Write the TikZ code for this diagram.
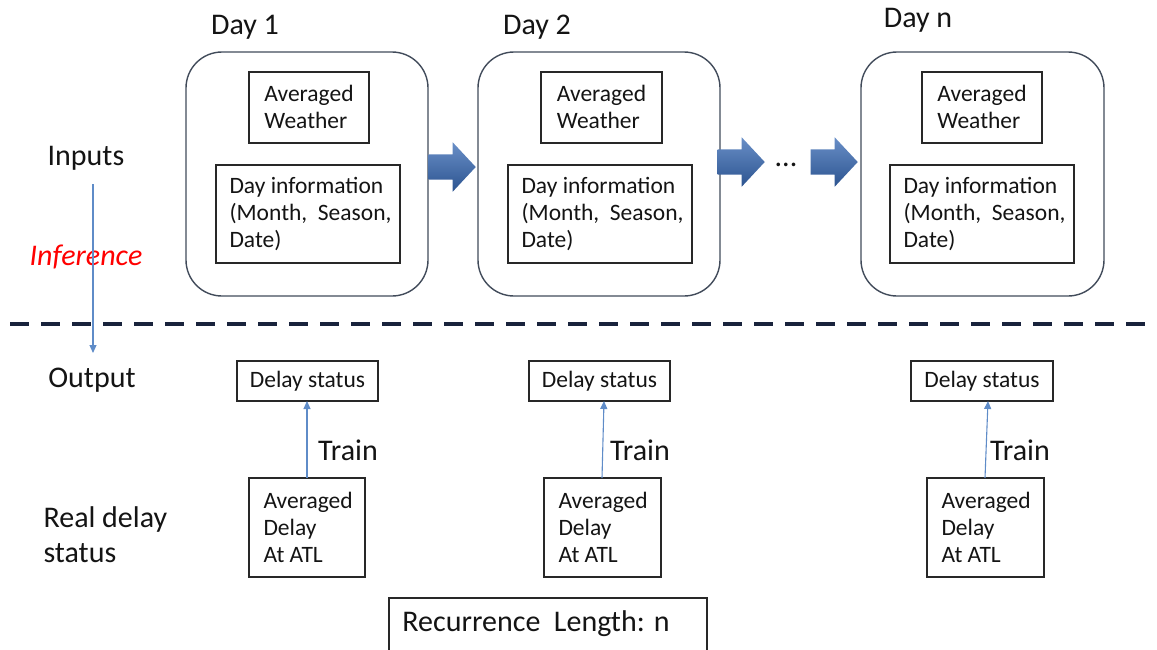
\documentclass[tikz,border=0pt]{standalone}
\usepackage{fontspec}
\setmainfont{Carlito}
\usetikzlibrary{arrows.meta,shapes.arrows}
\definecolor{framegray}{RGB}{65,75,90}
\definecolor{boxline}{RGB}{40,40,40}
\definecolor{flowblue}{RGB}{55,105,180}
\definecolor{linkblue}{RGB}{95,140,200}
\definecolor{navy}{RGB}{25,35,60}
\definecolor{txt}{RGB}{20,20,20}
\tikzset{
  daybox/.style={draw=framegray, line width=1.4pt, rounded corners=36pt},
  boxtext/.style={font=\fontsize{23.5}{27}\selectfont, text=txt, align=left},
  lbl/.style={font=\fontsize{30}{35}\selectfont, text=txt},
  flow/.style={single arrow, draw=none, inner sep=12.5pt, minimum height=47pt,
    single arrow head extend=12pt, single arrow tip angle=94, anchor=tip,
    top color=flowblue!75!white, bottom color=flowblue!80!black},
  thin arrow/.style={draw=linkblue, line width=1.1pt, -{Triangle[length=8pt,width=7pt]}},
}
\begin{document}
\begin{tikzpicture}[x=1pt,y=-1pt]
\useasboundingbox (0,0) rectangle (1157,649);

% day containers
\foreach \xl/\xr in {186/428, 478/720, 861/1104}{
  \draw[daybox] (\xl,52) rectangle (\xr,296);
}
\node[lbl] (t1) at (245,27) {Day 1};
\node[lbl] (t2) at (537,27) {Day 2};
\node[lbl] (tn) at (918,20) {Day n};

% weather and calendar boxes
\foreach \n/\a/\b/\c/\d in {1/249/369/216/400, 2/541/662/508/692, n/922/1042/890/1074}{
  \draw[boxline, line width=1.1pt] (\a,72) rectangle (\b,143);
  \node[boxtext] (w\n) at ({(\a+\b)/2},107) {Averaged\\Weather};
  \draw[boxline, line width=1.1pt] (\c,165) rectangle (\d,263);
  \node[boxtext, anchor=west] (i\n) at (\c+10,214) {Day information\\(Month,\ \ Season,\\Date)};
}

% block arrows between days (placed by their tips)
\node[flow] (f1) at (476,167) {};
\node[flow] (f2) at (765,162) {};
\node[lbl] (dots) at (786,165) {...};
\node[flow] (f3) at (858,162) {};

% left column labels
\node[lbl] (inp) at (86,158) {Inputs};
\node[font=\fontsize{30}{35}\selectfont\itshape, text=red] (inf) at (86,257) {Inference};
\node[lbl] (outp) at (92,380) {Output};
\node[lbl, align=left, anchor=west] (real) at (40,535) {Real delay\\status};
\coordinate (ia) at (93,184);
\coordinate (ib) at (93,353);
\draw[thin arrow] (ia) -- (ib);

% separator
\draw[navy, line width=3.5pt, dash pattern=on 19pt off 12pt] (10,324) -- (1157,324);

% outputs and training targets
\foreach \n/\a/\b/\c/\d/\xs/\xe/\tx in {1/237/378/249/365/307/307/348, 2/529/670/544/661/602/604/640, n/911/1053/927/1044/985/988/1020}{
  \draw[boxline, line width=1.1pt] (\a,361) rectangle (\b,401);
  \node[boxtext] (s\n) at ({(\a+\b)/2},381) {Delay status};
  \draw[boxline, line width=1.1pt] (\c,478) rectangle (\d,577);
  \node[boxtext, anchor=west] (r\n) at (\c+11,527) {Averaged\\Delay\\At ATL};
  \coordinate (ra\n) at (\xs,478);
  \coordinate (sa\n) at (\xe,401);
  \draw[thin arrow] (ra\n) -- (sa\n);
  \node[lbl] (tr\n) at (\tx,450) {Train};
}

% recurrence length
\draw[boxline, line width=1.1pt] (389,652) -- (389,598) -- (707,598) -- (707,652);
\node[lbl] (rec) at (536,624) {Recurrence\ \ Length: n};
\end{tikzpicture}
\end{document}
